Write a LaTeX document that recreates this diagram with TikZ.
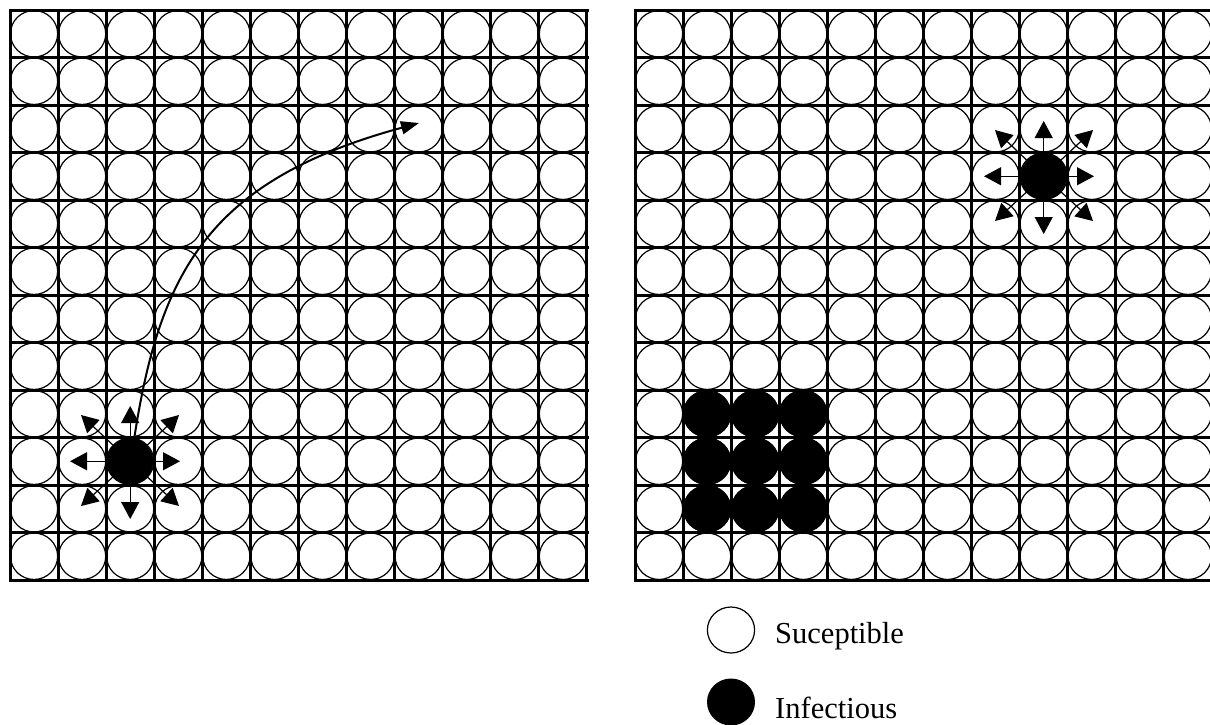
\documentclass[tikz,border=0pt]{standalone}
\usepackage{fontspec}
\setmainfont{Liberation Serif}
\usetikzlibrary{arrows.meta}
\begin{document}
\begin{tikzpicture}[x=1pt,y=-1pt,
  gridline/.style={line width=3pt, line cap=rect},
  susc/.style={draw, line width=1.2pt},
  filledcell/.style={fill=black},
  infected/.style={circle, fill=black, minimum size=46pt, inner sep=0pt},
  spread/.style={line width=1.2pt, -{Triangle[length=17pt,width=18pt]}},
  jump/.style={line width=2pt, -{Triangle[length=18pt,width=13pt]}},
  legendtext/.style={anchor=base west, inner sep=0pt, font=\fontsize{30.5}{32}\selectfont}]
\useasboundingbox (0,0) rectangle (1210,724);
\fill[white] (0,0) rectangle (1210,724);
% grids
\foreach \gx in {10,635}{
  \foreach \i in {0,...,12}{
    \draw[gridline] ({\gx+48.08*\i},10) -- ({\gx+48.08*\i},580);
    \draw[gridline] (\gx,{10+47.5*\i}) -- ({\gx+577},{10+47.5*\i});
  }
  \foreach \c in {0,...,11}{
    \foreach \r in {0,...,11}{
      \draw[susc] ({\gx+48.08*(\c+0.5)},{10+47.5*(\r+0.5)}) ellipse [x radius=23.6pt, y radius=23.2pt];
    }
  }
}
% filled block on right grid
\foreach \c in {1,2,3}{
  \foreach \r in {8,9,10}{
    \fill[filledcell] ({635+48.08*(\c+0.5)},{10+47.5*(\r+0.5)}) ellipse [x radius=24pt, y radius=23.6pt];
  }
}
% infected nodes
\node[infected] (L) at (130.2,461.25) {};
\node[infected] (R) at (1043.7,176.25) {};
% spread arrows left
\coordinate (Le) at (180,461.25);
\coordinate (Lw) at (70,461.25);
\coordinate (Ln) at (130.2,406);
\coordinate (Ls) at (130.2,519);
\coordinate (Lne) at (179,415);
\coordinate (Lnw) at (81,415);
\coordinate (Lse) at (179,506);
\coordinate (Lsw) at (81,506);
\foreach \t in {Le,Lw,Ln,Ls,Lne,Lnw,Lse,Lsw}{\draw[spread] (L.center) -- (\t);}
% spread arrows right
\coordinate (Re) at (1094,176.25);
\coordinate (Rw) at (984,176.25);
\coordinate (Rn) at (1043.7,121);
\coordinate (Rs) at (1043.7,234);
\coordinate (Rne) at (1093,130);
\coordinate (Rnw) at (995,130);
\coordinate (Rse) at (1093,221);
\coordinate (Rsw) at (995,221);
\foreach \t in {Re,Rw,Rn,Rs,Rne,Rnw,Rse,Rsw}{\draw[spread] (R.center) -- (\t);}
\node[infected] at (L) {};
\node[infected] at (R) {};
% long-range jump
\coordinate (J) at (419,123);
\draw[jump] (L.80) .. controls (160,270) and (210,180) .. (J);
% legend
\draw[susc] (731,630) ellipse [x radius=23.6pt, y radius=23pt];
\node[legendtext] (ls) at (775,643) {Suceptible};
\fill[black] (731,702) ellipse [x radius=24pt, y radius=23.5pt];
\node[legendtext] (li) at (775,718) {Infectious};
\end{tikzpicture}
\end{document}
